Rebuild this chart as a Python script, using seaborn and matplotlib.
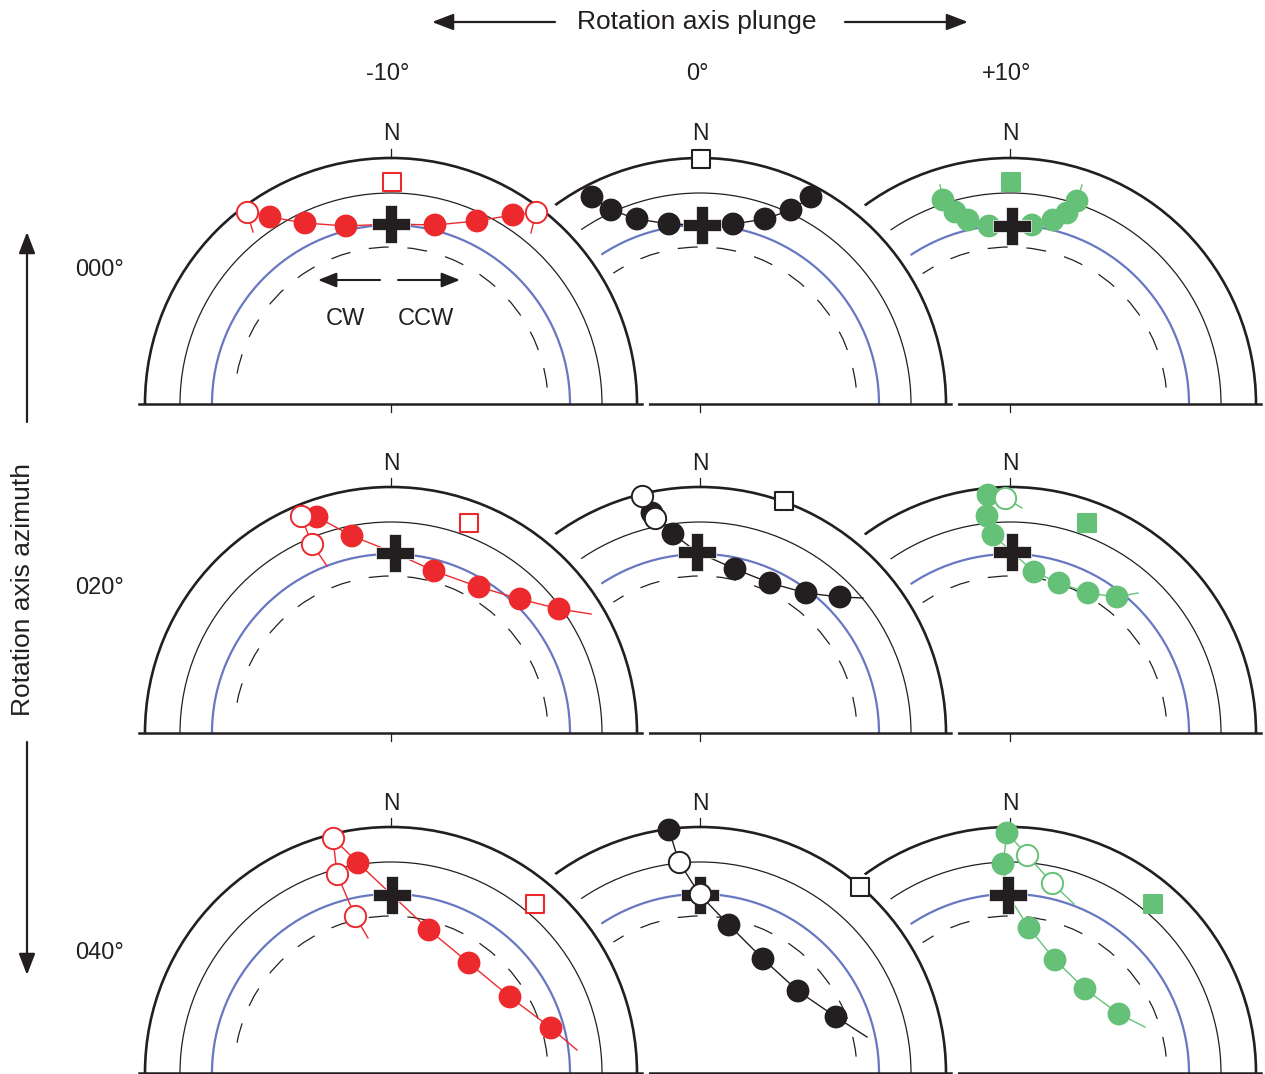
import numpy as np
import pandas as pd
import seaborn as sns
import matplotlib.pyplot as plt
from matplotlib.patches import Arc, Wedge

plt.rcParams['font.family'] = ['Liberation Sans', 'DejaVu Sans']

# labels
azimuths = ['000°', '020°', '040°']
plunges = ['-10°', '0°', '+10°']
colours = ['#EC2A2E', '#231F20', '#66C178']

# point positions read off each net, px from the net centre (x east, y north)
# panel order: az 000 (-10, 0, +10), az 020 (...), az 040 (...)
track = [
    [(-144, 192), (-121, 187), (-86, 181), (-45, 178), (0, 180), (44, 179), (86, 183), (122, 189), (145, 192)],
    [(-108, 207), (-89, 194), (-63, 185), (-31, 180), (2, 179), (33, 180), (65, 185), (91, 194), (111, 207)],
    [(-70, 219), (-67, 204), (-55, 192), (-42, 184), (-21, 178), (2, 178), (22, 179), (43, 184), (57, 191), (67, 203), (72, 219)],
    [(-74, 216), (-39, 197), (4, 180), (43, 162), (88, 146), (129, 134), (168, 124), (200, 119)],
    [(-48, 220), (-27, 199), (-3, 181), (35, 164), (70, 150), (106, 140), (140, 136), (163, 135)],
    [(-22, 238), (-23, 217), (-17, 198), (2, 181), (24, 161), (49, 150), (78, 140), (107, 136), (128, 140)],
    [(-58, 235), (-33, 210), (1, 178), (38, 143), (78, 110), (119, 76), (160, 45), (186, 23)],
    [(-31, 243), (-21, 211), (0, 178), (29, 148), (63, 114), (98, 82), (136, 56), (167, 36)],
    [(-3, 240), (-7, 209), (-2, 178), (19, 145), (45, 113), (75, 84), (109, 59), (135, 46)],
]
filled = [
    [(-121, 187), (-86, 181), (-45, 178), (44, 179), (86, 183), (122, 189)],
    [(-108, 207), (-89, 194), (-63, 185), (-31, 180), (33, 180), (65, 185), (91, 194), (111, 207)],
    [(-67, 204), (-55, 192), (-42, 184), (-21, 178), (22, 179), (43, 184), (57, 191), (67, 203)],
    [(-74, 216), (-39, 197), (43, 162), (88, 146), (129, 134), (168, 124)],
    [(-48, 220), (-27, 199), (35, 164), (70, 150), (106, 140), (140, 136)],
    [(-22, 238), (-23, 217), (-17, 198), (24, 161), (49, 150), (78, 140), (107, 136)],
    [(-33, 210), (38, 143), (78, 110), (119, 76), (160, 45)],
    [(-31, 243), (29, 148), (63, 114), (98, 82), (136, 56)],
    [(-3, 240), (-7, 209), (19, 145), (45, 113), (75, 84), (109, 59)],
]
hollow = [
    [(-144, 192), (145, 192)],
    [],
    [],
    [(-90, 217), (-79, 189)],
    [(-58, 237), (-45, 215)],
    [(-5, 235)],
    [(-58, 235), (-54, 199), (-36, 157)],
    [(-21, 211), (0, 179)],
    [(17, 218), (42, 190)],
]
branches = [
    [[(-144, 192), (-138, 172)], [(145, 192), (140, 171)]],
    [],
    [],
    [[(-90, 217), (-79, 189), (-64, 167)]],
    [[(-58, 237), (-45, 215)]],
    [[(-22, 238), (-5, 235), (12, 225)]],
    [[(-58, 235), (-54, 199), (-36, 157), (-23, 135)]],
    [],
    [[(-3, 240), (17, 218), (42, 190), (64, 169)]],
]
axis_pt = [(0, 180), (2, 179), (2, 178), (4, 180), (-3, 181), (2, 181), (1, 178), (0, 178), (-2, 178)]
pole_pt = [(1, 222), (1, 245), (1, 222), (78, 210), (84, 232), (77, 210), (144, 169), (160, 186), (143, 169)]

W, H = 1265, 1074
fig = plt.figure(figsize=(W / 100, H / 100), dpi=100)
ax = fig.add_axes([0, 0, 1, 1])

col_x = [391, 700, 1010]
row_y = [H - 404, H - 733, H - 1073]
ink = '#231F20'
blue = '#6777C1'


def to_df(pts, cx, cy):
    a = np.array(pts, dtype=float).reshape(-1, 2)
    return pd.DataFrame({'x': cx + a[:, 0], 'y': cy + a[:, 1]})


for r in range(3):
    for c in range(3):
        k = r * 3 + c
        cx, cy = col_x[c], row_y[r]
        z = 10 * (3 - c)
        col = colours[c]

        # net background + circles
        ax.add_patch(Wedge((cx, cy), 258, -3, 183, fc='white', ec='none', zorder=z))
        ax.add_patch(Arc((cx, cy), 492, 492, theta1=0, theta2=180, lw=1.9, color=ink, zorder=z + 1))
        ax.add_patch(Arc((cx, cy), 422, 422, theta1=0, theta2=180, lw=0.9, color=ink, zorder=z + 1))
        ax.add_patch(Arc((cx, cy), 358, 358, theta1=0, theta2=180, lw=1.6, color=blue, zorder=z + 1))
        ax.add_patch(Arc((cx, cy), 314, 314, theta1=6, theta2=174, lw=0.9, color=ink,
                         ls=(0, (16, 15)), zorder=z + 1))
        ax.plot([cx - 252, cx + 251], [cy, cy], lw=1.8, color=ink, zorder=z + 1)
        ax.plot([cx, cx], [cy, cy - 8], lw=0.9, color=ink, zorder=z + 1)
        ax.plot([cx, cx], [cy + 246, cy + 255], lw=0.9, color=ink, zorder=z + 1)
        ax.text(cx, cy + 270, 'N', ha='center', va='center', fontsize=16.5, color=ink, zorder=z + 1)

        # great-circle tracks
        sns.lineplot(data=to_df(track[k], cx, cy), x='x', y='y', sort=False, estimator=None,
                     color=col, lw=1.0, ax=ax, zorder=z + 2, legend=False)
        for b in branches[k]:
            sns.lineplot(data=to_df(b, cx, cy), x='x', y='y', sort=False, estimator=None,
                         color=col, lw=1.0, ax=ax, zorder=z + 2, legend=False)

        sns.scatterplot(data=to_df(filled[k], cx, cy), x='x', y='y', s=270, color=col,
                        edgecolor='none', ax=ax, zorder=z + 3, legend=False)
        sns.scatterplot(data=to_df([axis_pt[k]], cx, cy), x='x', y='y', marker='P', s=720,
                        color=ink, edgecolor='white', linewidth=0.5, ax=ax, zorder=z + 4, legend=False)
        if hollow[k]:
            sns.scatterplot(data=to_df(hollow[k], cx, cy), x='x', y='y', s=235, color='white',
                            edgecolor=col, linewidth=1.4, ax=ax, zorder=z + 5, legend=False)
        sq_face = colours[2] if c == 2 else 'white'
        sq_edge = colours[2] if c == 2 else col
        sns.scatterplot(data=to_df([pole_pt[k]], cx, cy), x='x', y='y', marker='s', s=175,
                        color=sq_face, edgecolor=sq_edge, linewidth=1.5, ax=ax, zorder=z + 6, legend=False)

# headers
big = dict(arrowstyle='-|>,head_length=0.65,head_width=0.25', lw=1.6, color=ink,
           shrinkA=0, shrinkB=0, mutation_scale=20)
ax.text(697, H - 22, 'Rotation axis plunge', ha='center', va='center', fontsize=19, color=ink)
ax.annotate('', xy=(432, H - 22), xytext=(555, H - 22), arrowprops=big)
ax.annotate('', xy=(968, H - 22), xytext=(845, H - 22), arrowprops=big)
for c, lab in enumerate(plunges):
    ax.text(col_x[c] - 3, H - 74, lab, ha='center', va='center', fontsize=17, color=ink)

ax.text(23, H - 589, 'Rotation axis azimuth', ha='center', va='center', rotation=90,
        fontsize=19, color=ink)
ax.annotate('', xy=(27, H - 232), xytext=(27, H - 422), arrowprops=big)
ax.annotate('', xy=(27, H - 975), xytext=(27, H - 742), arrowprops=big)
for r, (lab, yy) in enumerate(zip(azimuths, [270, 588, 953])):
    ax.text(100, H - yy, lab, ha='center', va='center', fontsize=17, color=ink)

# rotation sense
small = dict(arrowstyle='-|>,head_length=0.7,head_width=0.28', lw=1.5, color=ink,
             shrinkA=0, shrinkB=0, mutation_scale=16)
ax.annotate('', xy=(318, H - 280), xytext=(380, H - 280), arrowprops=small, zorder=40)
ax.annotate('', xy=(460, H - 280), xytext=(398, H - 280), arrowprops=small, zorder=40)
ax.text(345, H - 319, 'CW', ha='center', va='center', fontsize=17, color=ink, zorder=40)
ax.text(426, H - 319, 'CCW', ha='center', va='center', fontsize=17, color=ink, zorder=40)

ax.set_xlim(0, W)
ax.set_ylim(0, H)
ax.axis('off')
fig.savefig('out.png', dpi=100)
